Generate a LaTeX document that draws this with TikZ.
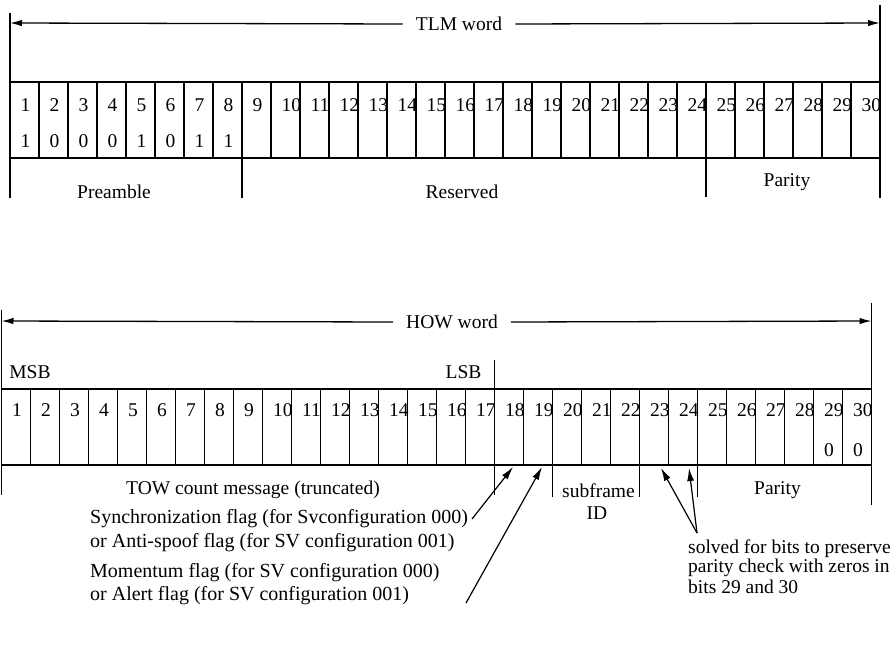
\documentclass[tikz,border=0pt]{standalone}
\usepackage{fontspec}
\setmainfont{Liberation Serif}
\usetikzlibrary{arrows.meta}
\tikzset{
  rule/.style={line width=1.3pt},
  dimarrow/.style={rule,-{Latex[length=12pt,width=6.5pt]}},
  flagarrow/.style={line width=1.2pt,-{Latex[length=13pt,width=7pt]}},
  lbl/.style={inner sep=0pt},
  bitnum/.style={inner sep=0pt,anchor=west,text height=13pt,text depth=0pt},
  txt/.style={inner sep=0pt,anchor=west},
  note/.style={txt,font=\fontsize{20}{23}\selectfont}
}
\begin{document}
\begin{tikzpicture}[x=1pt,y=-1pt,font=\fontsize{19.5}{22}\selectfont]
\useasboundingbox (0,0) rectangle (894,653);
% ---------------- TLM word ----------------
\draw[rule] (10,82) rectangle (880,158);
\foreach \i in {1,...,29} \draw[rule] ({10+\i*29},82) -- ({10+\i*29},158);
\foreach \i in {1,...,30} \node[bitnum] (t\i) at ({10+(\i-1)*29+10.5},105) {\i};
\foreach \v [count=\i] in {1,0,0,0,1,0,1,1} \node[bitnum] (tv\i) at ({10+(\i-1)*29+10.5},141) {\v};
\coordinate (tlmL) at (10,23);
\coordinate (tlmR) at (880,23);
\node[lbl,inner xsep=13pt] (tlm) at (459,24) {TLM word};
\draw[dimarrow] (tlm.west) -- (tlmL);
\draw[dimarrow] (tlm.east) -- (tlmR);
\draw[rule] (10,13) -- (10,198);
\draw[rule] (880,5) -- (880,198);
\draw[rule] (242,158) -- (242,198);
\draw[rule] (706,158) -- (706,197);
\node[lbl] (pre) at (114,192) {Preamble};
\node[lbl] (res) at (462,192) {Reserved};
\node[lbl] (tpar) at (787,182) {Parity};
% ---------------- HOW word ----------------
\draw[rule] (1.5,389) rectangle (871.5,465);
\foreach \i in {1,...,29} \draw[rule] ({1.5+\i*29},389) -- ({1.5+\i*29},465);
\foreach \i in {1,...,30} \node[bitnum] (h\i) at ({1.5+(\i-1)*29+10.5},410) {\i};
\node[bitnum] (hv29) at ({1.5+28*29+10.5},450) {0};
\node[bitnum] (hv30) at ({1.5+29*29+10.5},450) {0};
\coordinate (howL) at (1.5,321);
\coordinate (howR) at (871.5,321);
\node[lbl,inner xsep=13pt] (how) at (452,322) {HOW word};
\draw[dimarrow] (how.west) -- (howL);
\draw[dimarrow] (how.east) -- (howR);
\draw[rule] (1.5,310) -- (1.5,495);
\draw[rule] (871.5,303) -- (871.5,505);
\draw[rule] (494.5,360) -- (494.5,495);
\draw[rule] (552.5,465) -- (552.5,497);
\draw[rule] (639.5,465) -- (639.5,497);
\draw[rule] (697.5,465) -- (697.5,497);
\node[lbl] (msb) at (30,372) {MSB};
\node[lbl] (lsb) at (463.5,372) {LSB};
\node[lbl] (tow) at (253,490) {TOW count message (truncated)};
\node[lbl] (sub) at (598.5,491) {subframe};
\node[lbl] (sid) at (597,513) {ID};
\node[lbl] (hpar) at (777.5,490) {Parity};
% flags
\node[note] (s1) at (90,519) {Synchronization flag (for Svconfiguration 000)};
\node[note] (s2) at (90,543) {or Anti-spoof flag (for SV configuration 001)};
\node[note] (m1) at (90,573) {Momentum flag (for SV configuration 000)};
\node[note] (m2) at (90,596) {or Alert flag (for SV configuration 001)};
\coordinate (syncA) at (472,519);
\coordinate (syncB) at (513,467);
\coordinate (momA) at (466,603);
\coordinate (momB) at (542,467);
\draw[flagarrow] (syncA) -- (syncB);
\draw[flagarrow] (momA) -- (momB);
% parity solve
\node[txt] (p1) at (688,549) {solved for bits to preserve};
\node[txt] (p2) at (688,568) {parity check with zeros in};
\node[txt] (p3) at (688,587) {bits 29 and 30};
\coordinate (apex) at (697,533);
\coordinate (b23) at (661,468);
\coordinate (b24) at (689,468);
\draw[flagarrow] (apex) -- (b23);
\draw[flagarrow] (apex) -- (b24);
\end{tikzpicture}
\end{document}
